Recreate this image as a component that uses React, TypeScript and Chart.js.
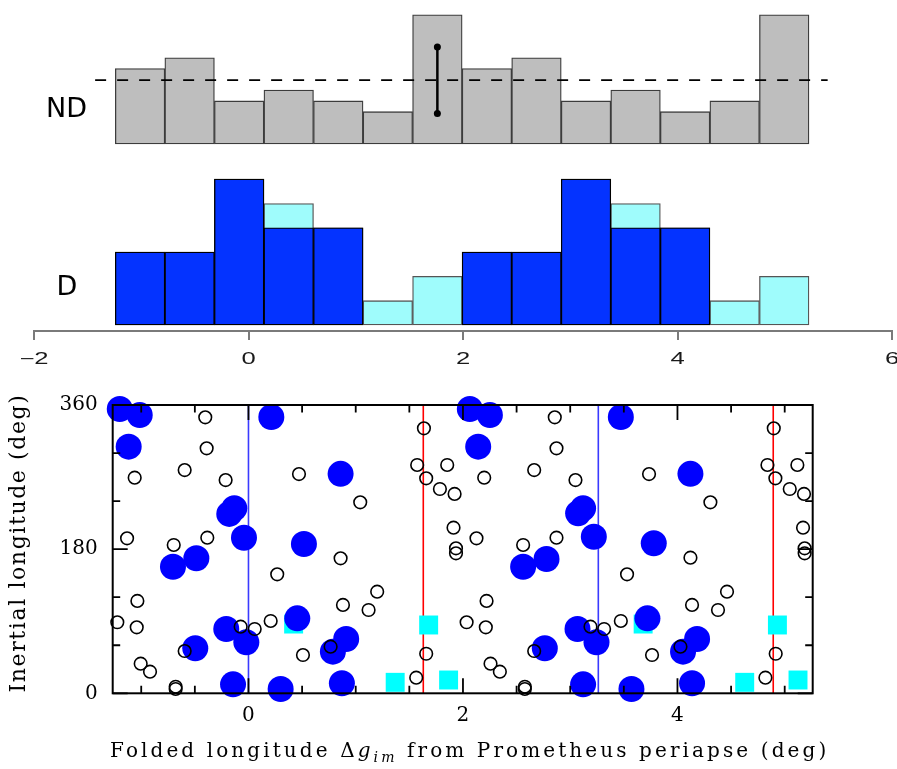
import React, { useEffect, useRef } from "react";
import { Chart, registerables } from "chart.js";
Chart.register(...registerables);

// ---------- Histogram data ----------
const binCenters = [-1.011, -0.549, -0.087, 0.375, 0.837, 1.299, 1.761, 2.223, 2.685, 3.147, 3.609, 4.071, 4.533, 4.995];
const ndCounts = [7, 8, 4, 5, 4, 3, 12, 7, 8, 4, 5, 3, 4, 12];
const dBlueCounts = [3, 3, 6, 4, 4, null, null, 3, 3, 6, 4, 4, null, null];
const dTotalCounts = [3, 3, 6, 5, 4, 1, 2, 3, 3, 6, 5, 4, 1, 2];
const ndMean = 5.93;
const ndMeanLineX = [-1.43, 5.4];
const errBarX = 1.761;
const errBarRange = [2.84, 9.0];
const topAxisTicks = [-2, 0, 2, 4, 6];

// ---------- Scatter data ----------
const blueDots: [number, number][] = [
  [-1.2, 355], [-1.014, 347.5], [-1.117, 308], [0.213, 345], [0.859, 274], [-0.132, 231], [-0.179, 224],
  [-0.042, 194.3], [0.517, 186.4], [-0.704, 158], [-0.486, 168.6], [-0.207, 80.3], [-0.02, 63.7],
  [-0.496, 56.2], [0.455, 93.6], [0.911, 67.8], [0.787, 52], [-0.144, 11.2], [0.3, 5.4], [0.871, 12.5],
  [2.064, 355], [2.251, 347.5], [2.142, 308], [3.472, 345], [4.121, 274], [3.12, 231], [3.074, 224.8],
  [3.22, 195.5], [3.779, 187.3], [2.561, 158], [2.779, 167.7], [3.068, 80.3], [3.245, 63.7],
  [2.763, 56.2], [3.72, 93.6], [4.183, 67.8], [4.052, 52], [3.12, 11.2], [3.571, 5.4], [4.136, 12.5],
];
const cyanSquares: [number, number][] = [
  [0.421, 86.5], [1.68, 85.3], [1.368, 13.7], [1.866, 16.6],
  [3.68, 86.5], [4.932, 85.3], [4.627, 13.7], [5.124, 16.6],
];
const openCircles: [number, number][] = [
  [-0.403, 344.6], [-0.39, 305.9], [-0.595, 278.8], [-1.061, 269.2], [-0.213, 266.3], [0.471, 273.8],
  [1.042, 238.5], [1.636, 330.9], [1.573, 285.1], [1.657, 268.5], [1.853, 285.1], [1.785, 255.1],
  [1.922, 248.9], [1.912, 206.8], [1.935, 181], [1.935, 174.8], [-1.132, 193.5], [-0.697, 185.2],
  [-0.384, 194.3], [0.859, 168.6], [0.268, 148.6], [1.2, 126.9], [0.881, 110.3], [1.12, 104],
  [-1.036, 115.3], [-1.223, 88.7], [-1.042, 82.4], [-0.073, 83.2], [0.058, 80.3], [0.207, 90.3],
  [-0.595, 52.8], [0.766, 58.2], [0.508, 47.8], [1.657, 49.4], [-1.005, 37], [-0.918, 27],
  [-0.679, 8.2], [-0.679, 5.4], [1.564, 19.5],
  [2.856, 344.6], [2.872, 305.9], [2.664, 278.8], [2.198, 269.2], [3.049, 266.3], [3.735, 273.8],
  [4.307, 238.5], [4.898, 330.9], [4.839, 285.1], [4.913, 268.5], [5.118, 285.1], [5.047, 255.1],
  [5.18, 248.9], [5.171, 206.8], [5.186, 181], [5.186, 174.8], [2.126, 193.5], [2.561, 185.2],
  [2.872, 194.3], [4.121, 169.3], [3.53, 148.6], [4.462, 126.9], [4.136, 110.3], [4.378, 104],
  [2.22, 115.3], [2.034, 88.7], [2.213, 82.4], [3.189, 83.2], [3.316, 80.3], [3.472, 90.3],
  [2.664, 52.8], [4.028, 58.2], [3.763, 47.8], [4.916, 49.4], [2.257, 37], [2.344, 27],
  [2.577, 8.2], [2.577, 5.4], [4.82, 19.5],
];
const blueLinesX = [0, 3.262];
const redLinesX = [1.63, 4.893];
const scatterXRange = [-1.266, 5.261];
const scatterYRange = [0, 360];
const xLabelTicks = [0, 2, 4];
const xMinorTicks = [-1, -0.5, 0.5, 1, 1.5, 2.5, 3, 3.5, 4.5, 5];
const yLabelTicks = [0, 180, 360];
const yMinorTicks = [60, 120, 240, 300];

const W = 897;

const fmtTop = (v: number) => (v < 0 ? "\u2212" + Math.abs(v) : String(v));

// Top axis labels: the original uses a horizontally stretched sans font
const stretchedLabels = {
  id: "stretchedLabels",
  afterDraw(chart: any) {
    const { ctx, scales } = chart;
    const xs = scales.x;
    const y = xs.top + 29;
    ctx.save();
    ctx.fillStyle = "#1a1a1a";
    ctx.font = '16px "Liberation Sans"';
    ctx.textAlign = "center";
    ctx.textBaseline = "middle";
    xs.ticks.forEach((t: any) => {
      const px = xs.getPixelForValue(t.value);
      ctx.save();
      ctx.translate(px, y);
      ctx.scale(1.6, 1);
      ctx.fillText(fmtTop(t.value), 0, 0);
      ctx.restore();
    });
    ctx.restore();
  },
};

const framePlugin = {
  id: "frameTicks",
  afterDatasetsDraw(chart: any) {
    const { ctx, chartArea, scales } = chart;
    const { left, right, top, bottom } = chartArea;
    const xs = scales.x;
    const ys = scales.y;
    ctx.save();
    ctx.strokeStyle = "#000";
    ctx.lineWidth = 2;
    ctx.strokeRect(left, top, right - left, bottom - top);
    ctx.lineWidth = 1.8;
    ctx.beginPath();
    const xt = (v: number, len: number) => {
      const p = xs.getPixelForValue(v);
      ctx.moveTo(p, bottom);
      ctx.lineTo(p, bottom - len);
      ctx.moveTo(p, top);
      ctx.lineTo(p, top + len);
    };
    const yt = (v: number, len: number) => {
      const p = ys.getPixelForValue(v);
      ctx.moveTo(left, p);
      ctx.lineTo(left + len, p);
      ctx.moveTo(right, p);
      ctx.lineTo(right - len, p);
    };
    xMinorTicks.forEach((v) => xt(v, 7.5));
    xLabelTicks.forEach((v) => xt(v, 15));
    yMinorTicks.forEach((v) => yt(v, 7.5));
    yLabelTicks.forEach((v) => yt(v, 15));
    ctx.stroke();
    ctx.restore();
  },
};

export default function App() {
  const ndRef = useRef<HTMLCanvasElement>(null);
  const dRef = useRef<HTMLCanvasElement>(null);
  const scRef = useRef<HTMLCanvasElement>(null);

  useEffect(() => {
    const charts: Chart[] = [];
    const common: any = {
      animation: false,
      responsive: false,
      events: [],
      plugins: { legend: { display: false }, tooltip: { enabled: false } },
    };

    charts.push(
      new Chart(ndRef.current as HTMLCanvasElement, {
        type: "bar",
        data: {
          datasets: [
            {
              type: "line",
              data: ndMeanLineX.map((x) => ({ x, y: ndMean })),
              borderColor: "#000",
              borderWidth: 1.6,
              borderDash: [11, 11],
              pointRadius: 0,
              order: 0,
              clip: false,
            } as any,
            {
              type: "line",
              data: errBarRange.map((y) => ({ x: errBarX, y })),
              borderColor: "#000",
              borderWidth: 2.5,
              pointRadius: 3.5,
              pointBackgroundColor: "#000",
              pointBorderWidth: 0,
              order: 0,
              clip: false,
            } as any,
            {
              type: "bar",
              data: binCenters.map((x, i) => ({ x, y: ndCounts[i] })),
              backgroundColor: "#bebebe",
              borderColor: "#3c3c3c",
              borderWidth: 1.3,
              borderSkipped: false,
              barPercentage: 1,
              categoryPercentage: 1,
              grouped: false,
              order: 1,
              clip: false,
            } as any,
          ],
        },
        options: {
          ...common,
          layout: { padding: { left: 34, right: 5, top: 3.6, bottom: 16 } },
          scales: {
            x: { type: "linear", min: -2, max: 6, offset: false, display: false },
            y: { type: "linear", min: 0, max: 13, display: false },
          },
        } as any,
      })
    );

    charts.push(
      new Chart(dRef.current as HTMLCanvasElement, {
        type: "bar",
        data: {
          datasets: [
            {
              data: binCenters.map((x, i) => ({ x, y: dBlueCounts[i] })),
              backgroundColor: "#0433ff",
              borderColor: "#000",
              borderWidth: 1.3,
              borderSkipped: false,
              barPercentage: 1,
              categoryPercentage: 1,
              grouped: false,
              order: 0,
              clip: false,
            } as any,
            {
              data: binCenters.map((x, i) => ({ x, y: dTotalCounts[i] })),
              backgroundColor: "#9ffcfc",
              borderColor: "#555",
              borderWidth: 1.3,
              borderSkipped: false,
              barPercentage: 1,
              categoryPercentage: 1,
              grouped: false,
              order: 1,
              clip: false,
            } as any,
          ],
        },
        options: {
          ...common,
          layout: { padding: { left: 34, right: 5, top: 7, bottom: 0 } },
          scales: {
            x: {
              type: "linear",
              min: -2,
              max: 6,
              offset: false,
              afterBuildTicks: (s: any) => {
                s.ticks = topAxisTicks.map((v) => ({ value: v }));
              },
              afterFit: (s: any) => {
                s.height = 49;
                s.paddingLeft = 0;
                s.paddingRight = 0;
              },
              grid: { display: true, offset: false, drawOnChartArea: false, drawTicks: true, tickLength: 9, color: "#7a7a7a", lineWidth: 2 },
              border: { display: true, color: "#7a7a7a", width: 2 },
              ticks: { display: false, autoSkip: false },
            },
            y: { type: "linear", min: -0.247, max: 6.5, display: false },
          },
        } as any,
        plugins: [stretchedLabels],
      })
    );

    const lineDs = (x: number, color: string) => ({
      type: "line",
      data: scatterYRange.map((y) => ({ x, y })),
      borderColor: color,
      borderWidth: 1.6,
      pointRadius: 0,
      showLine: true,
      order: 3,
    });

    charts.push(
      new Chart(scRef.current as HTMLCanvasElement, {
        type: "scatter",
        data: {
          datasets: [
            {
              data: openCircles.map(([x, y]) => ({ x, y })),
              pointRadius: 6.3,
              pointBorderWidth: 1.6,
              pointBorderColor: "#000",
              pointBackgroundColor: "rgba(0,0,0,0)",
              order: 0,
              clip: false,
            } as any,
            {
              data: blueDots.map(([x, y]) => ({ x, y })),
              pointRadius: 13,
              pointBorderWidth: 0,
              pointBackgroundColor: "#0000ff",
              order: 1,
              clip: false,
            } as any,
            {
              data: cyanSquares.map(([x, y]) => ({ x, y })),
              pointStyle: "rect",
              pointRadius: 13.4,
              pointBorderWidth: 0,
              pointBackgroundColor: "#00ffff",
              order: 2,
              clip: false,
            } as any,
            ...blueLinesX.map((x) => lineDs(x, "#3a3aff") as any),
            ...redLinesX.map((x) => lineDs(x, "#ff0000") as any),
          ],
        },
        options: {
          ...common,
          layout: { padding: { left: 0, right: 84.3, top: 25, bottom: 0 } },
          scales: {
            x: {
              type: "linear",
              min: scatterXRange[0],
              max: scatterXRange[1],
              afterBuildTicks: (s: any) => {
                s.ticks = xLabelTicks.map((v) => ({ value: v }));
              },
              afterFit: (s: any) => {
                s.height = 75.7;
                s.paddingLeft = 0;
                s.paddingRight = 0;
              },
              grid: { display: false, drawTicks: false },
              border: { display: false },
              ticks: { padding: 10.7, color: "#000", maxRotation: 0, autoSkip: false, font: { family: "DejaVu Serif", size: 20 } },
            },
            y: {
              type: "linear",
              min: scatterYRange[0],
              max: scatterYRange[1],
              afterBuildTicks: (s: any) => {
                s.ticks = yLabelTicks.map((v) => ({ value: v }));
              },
              afterFit: (s: any) => {
                s.width = 112.7;
                s.paddingTop = 0;
                s.paddingBottom = 0;
              },
              grid: { display: false, drawTicks: false },
              border: { display: false },
              ticks: { padding: 15, color: "#000", autoSkip: false, font: { family: "DejaVu Serif", size: 20 } },
            },
          },
        } as any,
        plugins: [framePlugin],
      })
    );

    return () => charts.forEach((c) => c.destroy());
  }, []);

  const canvasStyle = (top: number, h: number): React.CSSProperties => ({
    position: "absolute",
    left: 0,
    top,
    width: W,
    height: h,
  });

  return (
    <div style={{ position: "absolute", left: 0, top: 0, width: W, height: 769, background: "#fff", overflow: "hidden" }}>
      <canvas ref={ndRef} width={W} height={160} style={canvasStyle(0, 160)} />
      <canvas ref={dRef} width={W} height={220} style={canvasStyle(160, 220)} />
      <canvas ref={scRef} width={W} height={389} style={canvasStyle(380, 389)} />
      <div style={{ position: "absolute", left: 46, top: 93.9, fontFamily: "DejaVu Sans", fontSize: 27, lineHeight: "27px", color: "#000" }}>ND</div>
      <div style={{ position: "absolute", left: 56.5, top: 271.5, fontFamily: "DejaVu Sans", fontSize: 27, lineHeight: "27px", color: "#000" }}>D</div>
      <div
        style={{
          position: "absolute",
          left: 17.7 - 200,
          top: 543 - 11,
          width: 400,
          height: 22,
          lineHeight: "22px",
          textAlign: "center",
          fontFamily: "DejaVu Serif",
          fontSize: 22,
          letterSpacing: 1.6,
          color: "#000",
          transform: "rotate(-90deg)",
          whiteSpace: "nowrap",
        }}
      >
        Inertial longitude (deg)
      </div>
      <div
        style={{
          position: "absolute",
          left: 110,
          top: 739.8,
          lineHeight: "20px",
          fontFamily: "DejaVu Serif",
          fontSize: 20,
          letterSpacing: 3.1,
          color: "#000",
          whiteSpace: "nowrap",
        }}
      >
        Folded longitude Δ<i>g</i>
        <sub style={{ fontSize: 14, lineHeight: 0, fontStyle: "italic" }}>im</sub> from Prometheus periapse (deg)
      </div>
    </div>
  );
}
